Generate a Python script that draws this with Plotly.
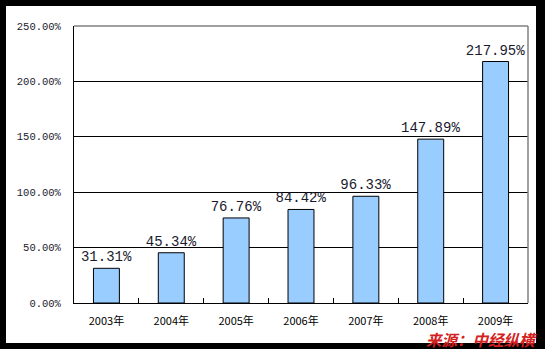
import plotly.graph_objects as go

# Year-on-year growth rate by year
years = ["2003年", "2004年", "2005年", "2006年", "2007年", "2008年", "2009年"]
growth = [31.31, 45.34, 76.76, 84.42, 96.33, 147.89, 217.95]
labels = ["31.31%", "45.34%", "76.76%", "84.42%", "96.33%", "147.89%", "217.95%"]
y_ticks = [0, 50, 100, 150, 200, 250]
y_ticktext = ["0.00%", "50.00%", "100.00%", "150.00%", "200.00%", "250.00%"]

W, H = 545, 349
ML, MR, MT, MB = 74, 17, 26, 46
PW, PH = W - ML - MR, H - MT - MB


def px_x(px):
    return (px - ML) / PW


def px_y(py):
    return (H - MB - py) / PH


fig = go.Figure(
    go.Bar(
        x=years,
        y=growth,
        text=labels,
        textposition="outside",
        constraintext="none",
        cliponaxis=False,
        textfont=dict(family="Liberation Mono", size=14, color="#1a1a2e"),
        marker=dict(color="#99CCFF", line=dict(color="black", width=1)),
        width=0.4,
    )
)

fig.update_layout(
    width=W,
    height=H,
    margin=dict(l=ML, r=MR, t=MT, b=MB),
    paper_bgcolor="black",
    plot_bgcolor="white",
    showlegend=False,
    bargap=0.6,
    xaxis=dict(
        showline=True,
        linecolor="black",
        linewidth=1,
        showgrid=False,
        ticks="inside",
        tickson="boundaries",
        ticklen=5,
        tickcolor="black",
        tickfont=dict(family="Noto Sans CJK SC", size=11, color="black"),
        ticklabelstandoff=8,
    ),
    yaxis=dict(
        range=[0, 250],
        tickvals=y_ticks,
        ticktext=y_ticktext,
        showline=True,
        linecolor="black",
        linewidth=1,
        showgrid=True,
        gridcolor="black",
        gridwidth=1,
        zeroline=False,
        ticks="",
        tickfont=dict(family="Liberation Mono", size=10.5, color="#1a1a2e"),
        ticklabelstandoff=10,
    ),
    shapes=[
        # white panel inside the black frame
        dict(type="rect", xref="paper", yref="paper", layer="below",
             x0=px_x(6), x1=px_x(536), y0=px_y(343), y1=px_y(6),
             fillcolor="white", line=dict(width=0)),
        # gray top and right plot borders
        dict(type="line", xref="paper", yref="paper",
             x0=0, x1=1, y0=1, y1=1, line=dict(color="#808080", width=1.5)),
        dict(type="line", xref="paper", yref="paper",
             x0=1, x1=1, y0=0, y1=1, line=dict(color="#808080", width=1.5)),
    ],
    annotations=[
        dict(text="<b><i>来源：中经纵横</i></b>", xref="paper", yref="paper",
             x=px_x(539), y=px_y(339), xanchor="right", yanchor="middle",
             showarrow=False,
             font=dict(family="Noto Sans CJK SC", size=15.5, color="#D42020")),
    ],
)

fig.write_html("out.html")
